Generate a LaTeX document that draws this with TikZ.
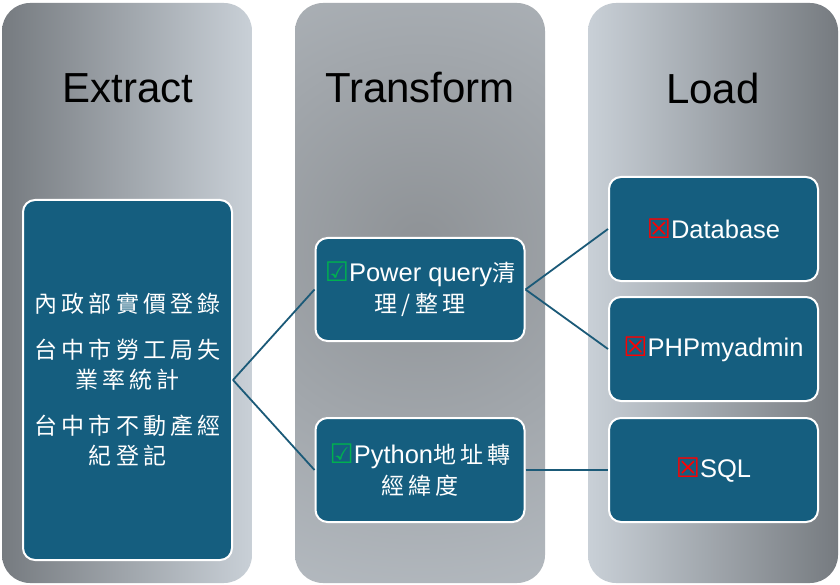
\documentclass[tikz,border=0pt]{standalone}
\usepackage{fontspec}
\setmainfont{Liberation Sans}
\newfontfamily\cjk{Noto Sans CJK TC}[LetterSpace=18]
\newfontfamily\symf{DejaVu Sans}
\definecolor{nodefill}{HTML}{155E7F}
\definecolor{linecol}{HTML}{1B5A78}
\definecolor{gdark}{HTML}{767B80}
\definecolor{glight}{HTML}{C9D0D7}
\definecolor{tcenter}{HTML}{8E9296}
\definecolor{ckgreen}{HTML}{00B050}
\definecolor{ckred}{HTML}{FF0000}
\newcommand{\okmark}{{\symf\fontsize{27}{31}\selectfont\color{ckgreen}☑}}
\newcommand{\nomark}{{\symf\fontsize{27}{31}\selectfont\color{ckred}☒}}
\begin{document}
\begin{tikzpicture}[x=1pt,y=-1pt,
  colbox/.style={rounded corners=28pt},
  title/.style={font=\fontsize{42}{50}\selectfont, text=black},
  databox/.style={draw=white, line width=2pt, fill=nodefill, rounded corners=12pt,
    minimum width=209pt, text=white, align=center, inner sep=1pt},
  cjktext/.style={font=\cjk\fontsize{23}{30}\selectfont},
  nodetext/.style={font=\fontsize{25.5}{31}\selectfont},
  conn/.style={draw=linecol, line width=1.8pt}]
\useasboundingbox[fill=white] (0,0) rectangle (840,585);
% columns
\shade[colbox, left color=gdark, right color=glight] (2,3) rectangle (252,583);
\begin{scope}
  \clip[colbox] (295,3) rectangle (545,583);
  \shade[inner color=tcenter, outer color=glight] (420,245) circle (580);
\end{scope}
\shade[colbox, left color=glight, right color=gdark] (588,3) rectangle (838,583);
% titles
\node[title] (textract) at (128,88) {Extract};
\node[title] (ttransform) at (420,88) {Transform};
\node[title] (tload) at (713,88) {Load};
% boxes
\node[databox, minimum height=360pt, cjktext] (ext) at (127.5,380)
  {內政部實價登錄\\[16pt]台中市勞工局失\\業率統計\\[16pt]台中市不動產經\\紀登記};
\node[databox, minimum height=103pt, nodetext] (pq) at (420,289.5)
  {\okmark Power query{\cjk\fontsize{23}{31}\selectfont 清}\\{\cjk\fontsize{23}{31}\selectfont 理/整理}};
\node[databox, minimum height=104pt, nodetext] (py) at (420,470)
  {\okmark Python{\cjk\fontsize{23}{31}\selectfont 地址轉}\\{\cjk\fontsize{23}{31}\selectfont 經緯度}};
\node[databox, minimum height=104pt, nodetext] (db) at (713.5,229)
  {\nomark Database};
\node[databox, minimum height=104pt, nodetext] (php) at (713.5,349)
  {\nomark PHPmyadmin};
\node[databox, minimum height=104pt, nodetext] (sql) at (713.5,470)
  {\nomark SQL};
% connectors
\draw[conn] (ext.east) -- (pq.west);
\draw[conn] (ext.east) -- (py.west);
\draw[conn] (pq.east) -- (db.west);
\draw[conn] (pq.east) -- (php.west);
\draw[conn] (py.east) -- (sql.west);
\end{tikzpicture}
\end{document}
